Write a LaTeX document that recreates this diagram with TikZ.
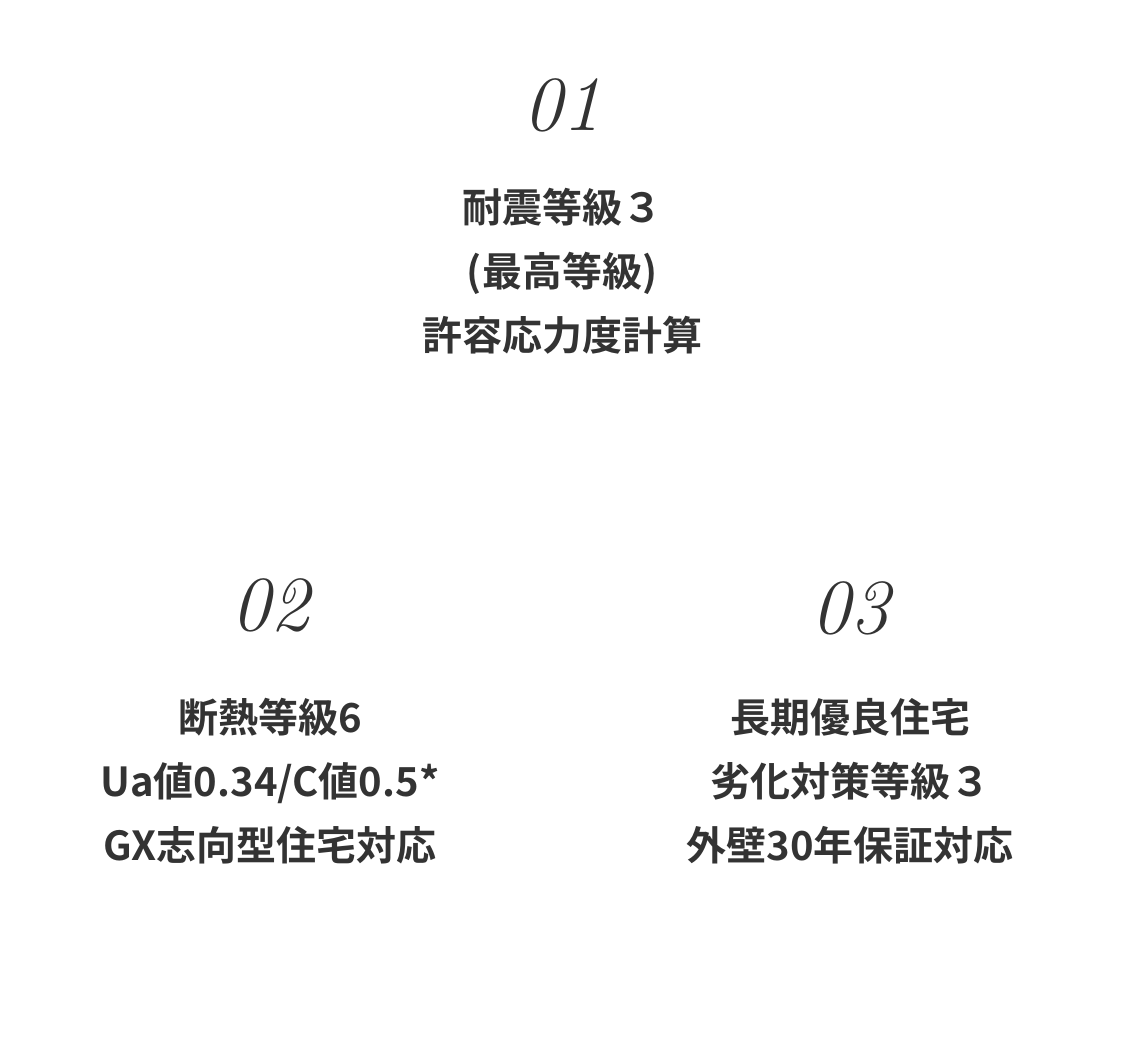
\documentclass[tikz,border=0pt]{standalone}
\usepackage{fontspec}
\newfontfamily\jpfont{Noto Sans CJK JP Bold}
\definecolor{ink}{HTML}{333333}
\begin{document}
\begin{tikzpicture}[x=1pt, y=-1pt,
    num/.style={text=ink, font=\fontsize{78}{78}\selectfont\itshape, inner sep=0pt},
    txt/.style={text=ink, font=\fontsize{40}{64}\selectfont\jpfont, align=center, inner sep=0pt}]
    \useasboundingbox (0,0) rectangle (1122,1041);

    \begin{scope}
      \node [num] (n1) at (562,105) {01};
      \node [txt, anchor=north] (t1) at (562,188) {耐震等級３\\(最高等級)\\許容応力度計算};
    \end{scope}

    \begin{scope}
      \node [num] (n2) at (270,605) {02};
      \node [txt, anchor=north] (t2) at (270,698) {断熱等級6\\Ua値0.34/C値0.5*\\GX志向型住宅対応};
    \end{scope}

    \begin{scope}
      \node [num] (n3) at (850,608) {03};
      \node [txt, anchor=north] (t3) at (850,698) {長期優良住宅\\劣化対策等級３\\外壁30年保証対応};
    \end{scope}
\end{tikzpicture}
\end{document}
